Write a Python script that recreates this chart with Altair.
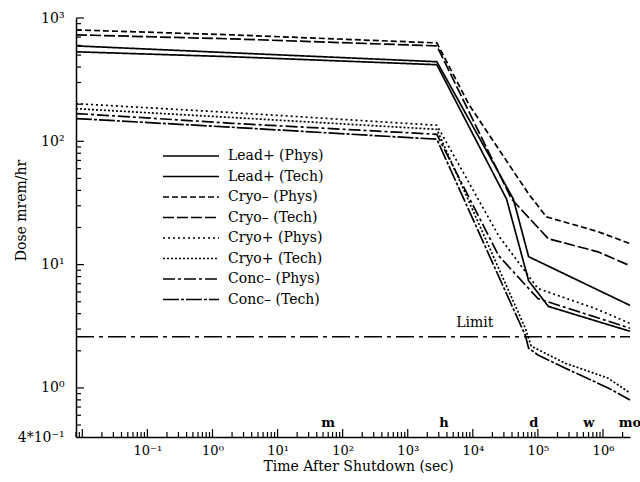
import altair as alt
import pandas as pd

FONT = "DejaVu Serif"

# ---------------- data ----------------
series = ["Lead+ (Phys)", "Lead+ (Tech)", "Cryo– (Phys)", "Cryo– (Tech)",
          "Cryo+ (Phys)", "Cryo+ (Tech)", "Conc– (Phys)", "Conc– (Tech)"]

lead_phys_t = [0.008, 2, 2800, 4.2e4, 7.2e4, 2.6e6]
lead_phys_v = [594, 522, 442, 34, 11.6, 4.67]

lead_tech_t = [0.008, 2, 2800, 3.3e4, 7.2e4, 1.45e5, 2.6e6]
lead_tech_v = [532, 485, 418, 34, 7.4, 4.58, 2.88]

cryom_phys_t = [0.008, 2, 2800, 8700, 7.2e4, 1.35e5, 8.4e5, 2.6e6]
cryom_phys_v = [800, 730, 628, 199, 37.4, 24.4, 18.5, 14.8]

cryom_tech_t = [0.008, 2, 2800, 3.94e4, 1.45e5, 8.4e5, 2.6e6]
cryom_tech_v = [730, 677, 594, 34, 16.2, 12.7, 9.8]

cryop_phys_t = [0.008, 2, 2800, 2.5e4, 1.0e5, 7.5e5, 2.6e6]
cryop_phys_v = [202, 171, 135, 17.1, 6.4, 4.42, 3.34]

cryop_tech_t = [0.008, 2, 2800, 6.4e4, 7.9e4, 2.6e5, 1.2e6, 2.6e6]
cryop_tech_v = [184, 156, 125, 3.05, 2.18, 1.59, 1.2, 0.91]

conc_phys_t = [0.008, 2, 2800, 2.5e4, 1.0e5, 2.6e6]
conc_phys_v = [168, 140, 114, 11.8, 5.3, 3.05]

conc_tech_t = [0.008, 2, 2800, 6.4e4, 7.2e4, 1.0e5, 2.6e5, 1.2e6, 2.6e6]
conc_tech_v = [153, 130, 104, 2.67, 2.10, 1.85, 1.45, 1.0, 0.8]

limit_t = [0.008, 2.6e6]
limit_v = [2.6, 2.6]
limit_label = "Limit"
limit_label_t = 1.07e4
limit_label_v = 3.34

marker_t = [60, 3600, 86400, 604800, 2.6e6]
marker_labels = ["m", "h", "d", "w", "mo"]

x_label_values = [0.1, 1, 10, 100, 1e3, 1e4, 1e5, 1e6]
x_label_texts = ["10⁻¹", "10⁰", "10¹", "10²", "10³", "10⁴", "10⁵", "10⁶"]
y_label_values = [0.4, 1, 10, 100, 1000]
y_label_texts = ["4*10⁻¹", "10⁰", "10¹", "10²", "10³"]

x_domain = [0.008, 2.6e6]
y_domain = [0.4, 1000]

dashes = [[1, 0], [1, 0], [6, 3], [11, 3], [2, 3], [2, 2], [12, 3, 3, 3], [16, 2, 3, 2]]

# ---------------- tables ----------------
all_t = [lead_phys_t, lead_tech_t, cryom_phys_t, cryom_tech_t,
         cryop_phys_t, cryop_tech_t, conc_phys_t, conc_tech_t]
all_v = [lead_phys_v, lead_tech_v, cryom_phys_v, cryom_tech_v,
         cryop_phys_v, cryop_tech_v, conc_phys_v, conc_tech_v]
rows = []
for name, ts, vs in zip(series, all_t, all_v):
    for i, (t, v) in enumerate(zip(ts, vs)):
        rows.append({"series": name, "t": t, "dose": v, "i": i})
df = pd.DataFrame(rows)

limit_df = pd.DataFrame({"t": limit_t, "dose": limit_v})
limit_lab_df = pd.DataFrame({"t": [limit_label_t], "dose": [limit_label_v], "label": [limit_label]})
marker_df = pd.DataFrame({"t": marker_t, "label": marker_labels})

x_major_ticks = [10.0 ** e for e in range(-2, 7)]
x_minor_ticks = [k * 10.0 ** e for e in range(-3, 7) for k in range(2, 10)
                 if x_domain[0] <= k * 10.0 ** e <= x_domain[1]]
y_major_ticks = [1, 10, 100, 1000]
y_minor_ticks = [k * 10.0 ** e for e in range(-1, 3) for k in range(2, 10)
                 if y_domain[0] < k * 10.0 ** e < y_domain[1]]
xtick_df = pd.DataFrame({"t": x_major_ticks + x_minor_ticks,
                         "kind": ["major"] * len(x_major_ticks) + ["minor"] * len(x_minor_ticks)})
ytick_df = pd.DataFrame({"dose": y_major_ticks + y_minor_ticks,
                         "kind": ["major"] * len(y_major_ticks) + ["minor"] * len(y_minor_ticks)})


def label_expr(values, texts):
    expr = "''"
    for v, s in reversed(list(zip(values, texts))):
        expr = f"abs(datum.value - {v}) < {v} * 0.01 ? '{s}' : ({expr})"
    return expr


W, H = 554, 419

xs = alt.Scale(type="log", domain=x_domain, nice=False)
ys = alt.Scale(type="log", domain=y_domain, nice=False)

x_axis = alt.Axis(values=x_label_values, labelExpr=label_expr(x_label_values, x_label_texts),
                  title="Time After Shutdown (sec)", ticks=False, grid=False,
                  labelPadding=7, titlePadding=2, labelFlush=False, labelOverlap=False,
                  labelFontSize=13, titleX=282)
y_axis = alt.Axis(values=y_label_values, labelExpr=label_expr(y_label_values, y_label_texts),
                  title="Dose mrem/hr", ticks=False, grid=False,
                  labelPadding=12, titleX=-55, titleY=192, titleAngle=-90,
                  titleBaseline="middle", titleAlign="center",
                  labelFlush=False, labelOverlap=False)

X = alt.X("t:Q", scale=xs, axis=x_axis)
Y = alt.Y("dose:Q", scale=ys, axis=y_axis)

lines = alt.Chart(df).mark_line(color="black", strokeWidth=1.7).encode(
    x=X,
    y=Y,
    strokeDash=alt.StrokeDash(
        "series:N",
        scale=alt.Scale(domain=series, range=dashes),
        legend=alt.Legend(
            title=None, orient="none", legendX=86, legendY=130,
            symbolType="stroke", symbolSize=3136, symbolStrokeWidth=1.7,
            symbolStrokeColor="black", clipHeight=16, rowPadding=4.5,
            labelFont=FONT, labelFontSize=14, labelColor="black",
            labelOffset=8, padding=0, labelLimit=220,
        ),
    ),
    order=alt.Order("i:Q"),
)

limit = alt.Chart(limit_df).mark_line(color="black", strokeWidth=1.6,
                                      strokeDash=[18, 5, 4, 5]).encode(x=X, y=Y)

limit_text = alt.Chart(limit_lab_df).mark_text(font=FONT, fontSize=14, color="black",
                                               baseline="middle", align="center").encode(
    x=X, y=Y, text="label:N")

markers = alt.Chart(marker_df).mark_text(font=FONT, fontSize=13, fontWeight="bold",
                                         color="black", baseline="middle", align="center").encode(
    x=X, y=alt.value(H - 14), text="label:N")

xticks_major = alt.Chart(xtick_df).transform_filter("datum.kind == 'major'").mark_rule(
    color="black", strokeWidth=1.2).encode(x=X, y=alt.value(H), y2=alt.value(H - 8))
xticks_minor = alt.Chart(xtick_df).transform_filter("datum.kind == 'minor'").mark_rule(
    color="black", strokeWidth=1.2).encode(x=X, y=alt.value(H), y2=alt.value(H - 5))
yticks_major = alt.Chart(ytick_df).transform_filter("datum.kind == 'major'").mark_rule(
    color="black", strokeWidth=1.2).encode(y=Y, x=alt.value(0), x2=alt.value(8))
yticks_minor = alt.Chart(ytick_df).transform_filter("datum.kind == 'minor'").mark_rule(
    color="black", strokeWidth=1.2).encode(y=Y, x=alt.value(0), x2=alt.value(5))

chart = alt.layer(
    lines, limit, limit_text, markers, xticks_major, xticks_minor, yticks_major, yticks_minor
).properties(
    width=W, height=H,
    padding={"left": 76, "top": 18, "right": 10, "bottom": 45},
    autosize="none",
    background="white",
).configure_view(stroke=None).configure_axis(
    domainColor="black", domainWidth=1.5,
    labelFont=FONT, labelFontSize=14, labelColor="black",
    titleFont=FONT, titleFontSize=14, titleFontWeight="normal", titleColor="black",
)

chart.save("out.html", embed_options={"renderer": "svg", "actions": False})
